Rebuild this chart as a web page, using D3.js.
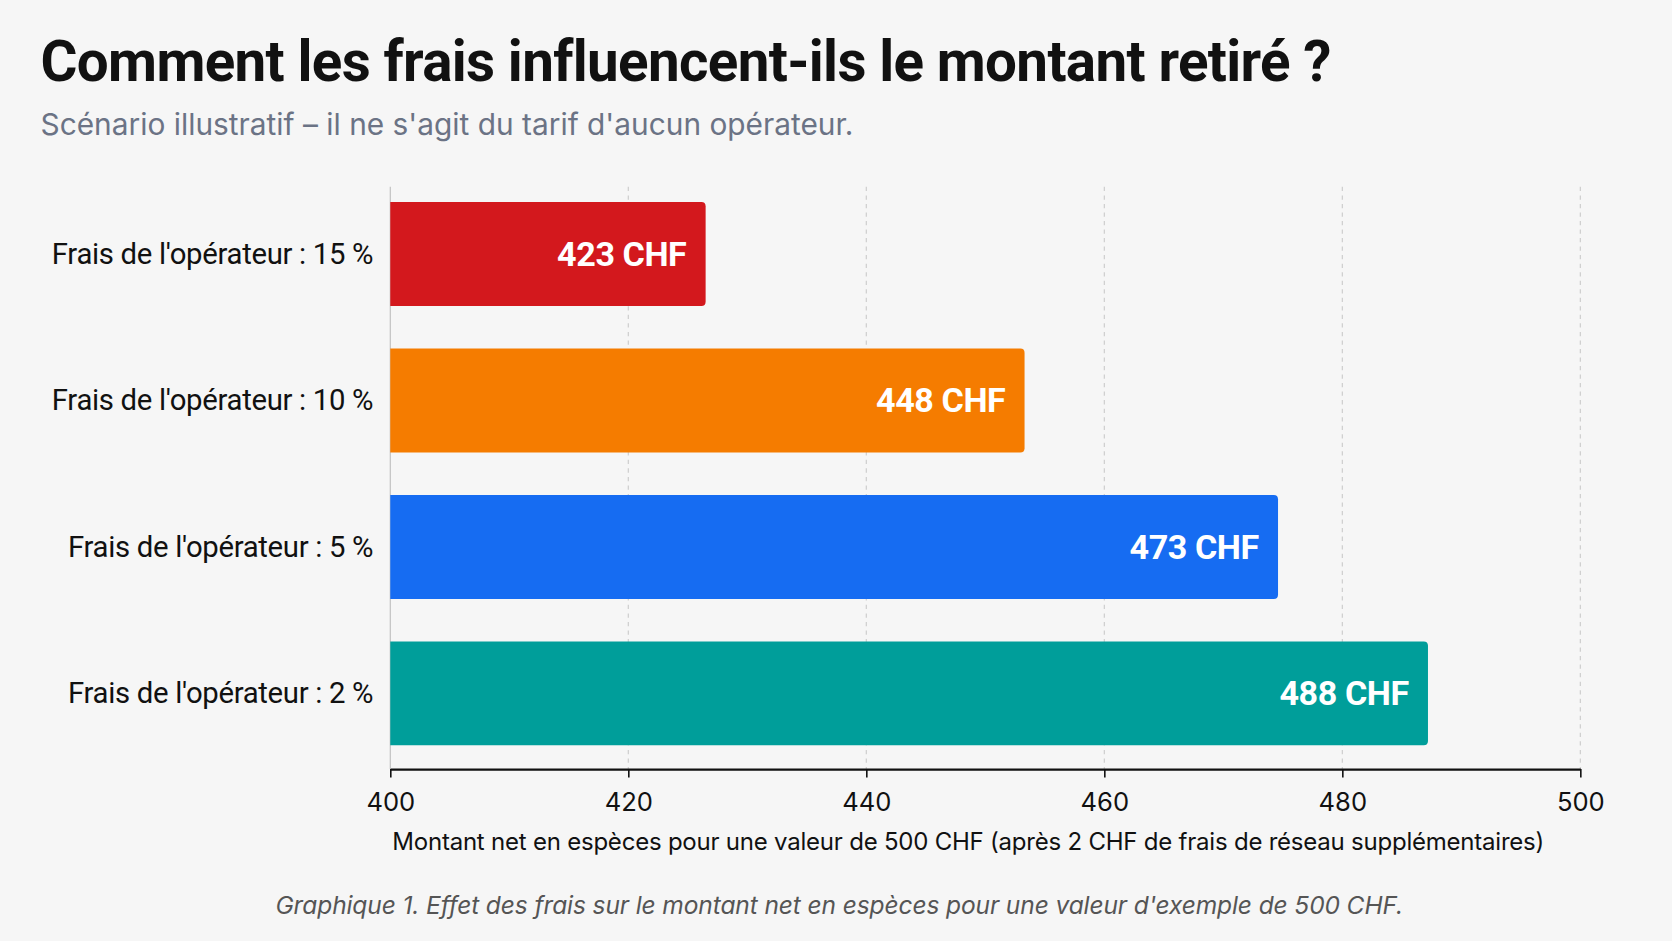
<!DOCTYPE html>
<html><head><meta charset="utf-8">
<script src="https://cdn.jsdelivr.net/npm/d3@7"></script>
<style>body{margin:0;background:#f6f6f6}</style></head>
<body><svg id="c" width="1672" height="941" viewBox="0 0 1568 882"></svg>
<script>
const categories = ["Frais de l'opérateur : 15 %","Frais de l'opérateur : 10 %","Frais de l'opérateur : 5 %","Frais de l'opérateur : 2 %"];
const values = [426.5, 453.3, 474.6, 487.2];
const valueLabels = ["423 CHF","448 CHF","473 CHF","488 CHF"];
const colors = ["#d3181d","#f57c00","#166cf2","#009e9a"];
const ticks = [400,420,440,460,480,500];

const svg = d3.select("#c");
svg.append("rect").attr("width",1568).attr("height",882).attr("fill","#f6f6f6");
const x = d3.scaleLinear().domain([400,500]).range([366,1482]);
const y = d3.scaleBand().domain(categories).range([170,718]).paddingInner(0.29).paddingOuter(0.14);

svg.append("text").attr("x",38).attr("y",76).attr("font-family","Roboto").attr("font-weight",700)
  .attr("font-size",53).attr("letter-spacing",-0.6).attr("fill","#111").text("Comment les frais influencent-ils le montant retiré ?");
svg.append("text").attr("x",38).attr("y",126).attr("font-family","Inter, 'Noto Sans'").attr("font-size",28)
  .attr("fill","#6b7385").attr("letter-spacing",0).text("Scénario illustratif – il ne s'agit du tarif d'aucun opérateur.");

svg.append("g").selectAll("line").data(ticks.slice(1)).join("line")
  .attr("x1",d=>x(d)).attr("x2",d=>x(d)).attr("y1",175).attr("y2",721)
  .attr("stroke","#c8c8c8").attr("stroke-dasharray","4,4");
svg.append("line").attr("x1",366).attr("x2",366).attr("y1",175).attr("y2",721).attr("stroke","#bbb");

svg.append("g").selectAll("path").data(values).join("path")
  .attr("fill",(d,i)=>colors[i])
  .attr("d",(d,i)=>{const x0=x(400),x1=x(d),y0=y(categories[i]),h=y.bandwidth(),r=4;
    return `M${x0},${y0}H${x1-r}Q${x1},${y0} ${x1},${y0+r}V${y0+h-r}Q${x1},${y0+h} ${x1-r},${y0+h}H${x0}Z`;});
svg.append("g").selectAll("text").data(values).join("text")
  .attr("x",d=>x(d)-18).attr("y",(d,i)=>y(categories[i])+y.bandwidth()/2+11)
  .attr("text-anchor","end").attr("font-family","Roboto").attr("font-weight",700).attr("font-size",32)
  .attr("letter-spacing",-0.4).attr("fill","#fff").text((d,i)=>valueLabels[i]);
svg.append("g").selectAll("text").data(categories).join("text")
  .attr("x",350).attr("y",d=>y(d)+y.bandwidth()/2+9).attr("text-anchor","end")
  .attr("font-family","Roboto").attr("font-size",27.5).attr("letter-spacing",-0.3).attr("fill","#111").text(d=>d);

const ax = svg.append("g").attr("transform","translate(0,721)")
  .call(d3.axisBottom(x).tickValues(ticks).tickSize(8).tickSizeOuter(0).tickPadding(14));
ax.select(".domain").attr("stroke","#111").attr("stroke-width",2);
ax.selectAll(".tick line").attr("stroke","#111").attr("stroke-width",1.5);
ax.selectAll("text").attr("font-family","Inter, 'Noto Sans'").attr("font-size",24).attr("fill","#111");

svg.append("text").attr("x",908).attr("y",797).attr("text-anchor","middle").attr("font-family","Inter, 'Noto Sans'")
  .attr("font-size",22.5).attr("letter-spacing",-0.2).attr("fill","#111")
  .text("Montant net en espèces pour une valeur de 500 CHF (après 2 CHF de frais de réseau supplémentaires)");
svg.append("text").attr("x",787).attr("y",857).attr("text-anchor","middle").attr("font-family","Inter, 'Noto Sans'")
  .attr("font-style","italic").attr("font-size",23).attr("letter-spacing",-0.1).attr("fill","#555")
  .text("Graphique 1. Effet des frais sur le montant net en espèces pour une valeur d'exemple de 500 CHF.");
</script></body></html>
